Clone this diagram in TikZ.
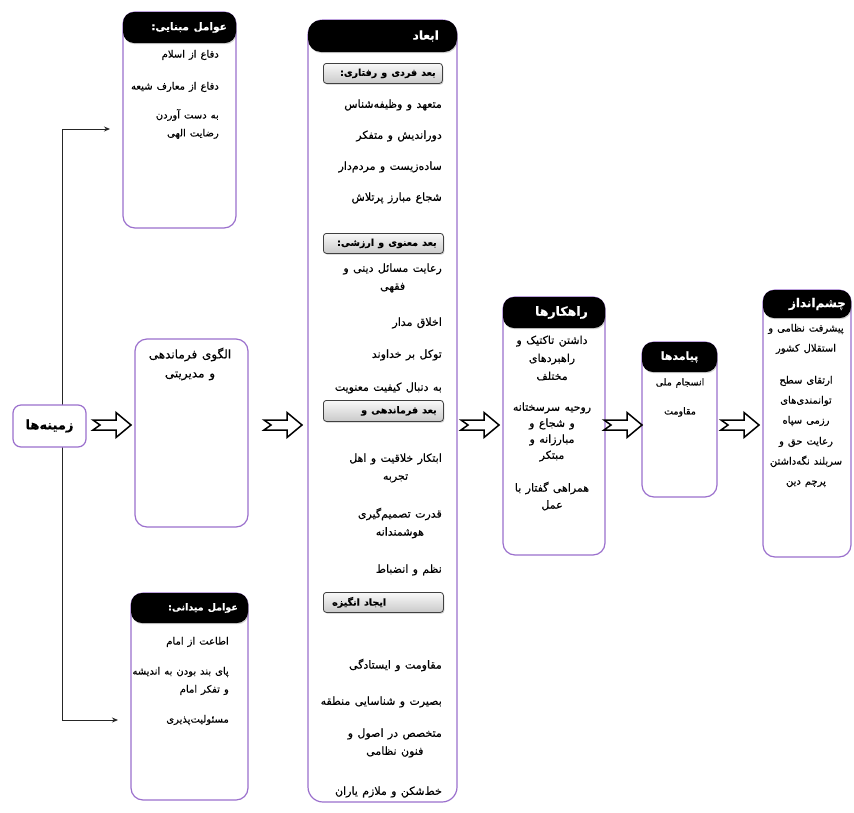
\documentclass[tikz,border=0pt]{standalone}
\usepackage{fontspec}
\usetikzlibrary{arrows.meta,shadows,calc}
\TeXXeTstate=1
\newfontfamily\arabicfont[Script=Arabic,WordSpace=1.25,FakeBold=0.4]{DejaVu Sans}
\newcommand\fa[1]{{\arabicfont\beginR #1\endR}}
\definecolor{purp}{RGB}{155,112,205}
\begin{document}
\begin{tikzpicture}[x=1pt,y=-1pt,
  box/.style={draw=purp, line width=1.2pt, rounded corners=12pt, fill=white, inner sep=0pt, outer sep=0pt, anchor=north west},
  hdr/.style={fill=black, rounded corners=11pt, inner sep=0pt, outer sep=0pt, anchor=north west, drop shadow={opacity=0.35, shadow xshift=0.8pt, shadow yshift=-1.2pt}},
  hdrtext/.style={text=white, font=\fontsize{10.5}{12}\selectfont\bfseries, inner sep=0pt},
  item/.style={font=\fontsize{10}{18}\selectfont, inner sep=0pt, text=black},
  col/.style={item, font=\fontsize{11}{18}\selectfont},
  sub/.style={draw=black!75, line width=0.8pt, rounded corners=3pt, top color=gray!5, bottom color=gray!42, anchor=north west, inner sep=0pt, drop shadow={opacity=0.4, shadow xshift=1pt, shadow yshift=-1.2pt}},
  subtext/.style={font=\fontsize{9.5}{11}\selectfont\bfseries, inner sep=0pt},
  conn/.style={draw=black!85, line width=0.9pt},
  barrow/.pic={\draw[line width=1.5pt, line join=miter, fill=white] (0,-5) -- (23,-5) -- (23,-12.5) -- (38,0) -- (23,12.5) -- (23,5) -- (0,5) -- (7,0) -- cycle;}
]
\useasboundingbox[fill=white] (0,0) rectangle (854,812);

% ---------- left column ----------
\node[box, minimum width=113pt, minimum height=216pt] (top) at (123,12) {};
\node[hdr, minimum width=113pt, minimum height=31pt] (toph) at (123,12) {};
\node[hdrtext, anchor=east] (topht) at ([xshift=-9pt]toph.east) {\fa{عوامل مبنایی:}};
\node[item, anchor=east] (t1) at (219,55) {\fa{دفاع از اسلام}};
\node[item, anchor=east] (t2) at (219,87) {\fa{دفاع از معارف شیعه}};
\node[item, anchor=east, align=right] (t3) at (219,124) {\fa{به دست آوردن}\\\fa{رضایت الهی}};

\node[box, minimum width=113pt, minimum height=188pt] (mid) at (135,339) {};
\node[item, font=\fontsize{12}{19}\selectfont, align=center] (midt) at (190,364) {\fa{الگوی فرماندهی}\\\fa{و مدیریتی}};

\node[box, minimum width=117pt, minimum height=207pt] (bot) at (131,593) {};
\node[hdr, minimum width=117pt, minimum height=30pt] (both) at (131,593) {};
\node[hdrtext, font=\fontsize{9.5}{11}\selectfont\bfseries, anchor=east] (botht) at ([xshift=-10pt]both.east) {\fa{عوامل میدانی:}};
\node[item, anchor=east] (b1) at (229,642) {\fa{اطاعت از امام}};
\node[item, anchor=east, align=right] (b2) at (229,681) {\fa{پای بند بودن به اندیشه}\\\fa{و تفکر امام}};
\node[item, anchor=east] (b3) at (229,720) {\fa{مسئولیت^^^^200cپذیری}};

% ---------- connectors from zamineha ----------
\coordinate (ltop) at (62,129);
\coordinate (lbot) at (62,720);
\coordinate (ttip) at (110,129);
\coordinate (btip) at (118,720);
\draw[conn, -{Stealth[length=6pt,width=5pt]}] (62,425) -- (ltop) -- (ttip);
\draw[conn, -{Stealth[length=6pt,width=5pt]}] (62,425) -- (lbot) -- (btip);

\node[box, rounded corners=8pt, minimum width=73pt, minimum height=42pt, font=\fontsize{13}{15}\selectfont\bfseries] (zam) at (13,405) {\fa{زمینه^^^^200cها}};

% ---------- abad column ----------
\node[box, rounded corners=15pt, minimum width=149pt, minimum height=782pt] (abad) at (308,20) {};
\node[hdr, rounded corners=13pt, minimum width=149pt, minimum height=32pt] (abadh) at (308,20) {};
\node[hdrtext, font=\fontsize{12}{14}\selectfont\bfseries, anchor=east] (abadht) at ([xshift=-18pt]abadh.east) {\fa{ابعاد}};

\node[sub, minimum width=119pt, minimum height=20pt] (s1) at (323,63) {};
\node[subtext, anchor=east] (s1t) at ([xshift=-7pt]s1.east) {\fa{بعد فردی و رفتاری:}};
\node[col, anchor=east] (a1) at (442,105) {\fa{متعهد و وظیفه^^^^200cشناس}};
\node[col, anchor=east] (a2) at (442,136) {\fa{دوراندیش و متفکر}};
\node[col, anchor=east] (a3) at (442,167) {\fa{ساده^^^^200cزیست و مردم^^^^200cدار}};
\node[col, anchor=east] (a4) at (442,198) {\fa{شجاع مبارز پرتلاش}};

\node[sub, minimum width=120pt, minimum height=20pt] (s2) at (323,233) {};
\node[subtext, anchor=east] (s2t) at ([xshift=-7pt]s2.east) {\fa{بعد معنوی و ارزشی:}};
\node[col, anchor=east, align=center] (a5) at (442,278) {\fa{رعایت مسائل دینی و}\\\fa{فقهی}};
\node[col, anchor=east] (a6) at (442,323) {\fa{اخلاق مدار}};
\node[col, anchor=east] (a7) at (442,355) {\fa{توکل بر خداوند}};
\node[col, anchor=east] (a8) at (442,388) {\fa{به دنبال کیفیت معنویت}};

\node[sub, minimum width=120pt, minimum height=21pt] (s3) at (323,400) {};
\node[subtext, anchor=east] (s3t) at ([xshift=-7pt]s3.east) {\fa{بعد فرماندهی و}};
\node[col, anchor=east, align=center] (a9) at (442,468) {\fa{ابتکار خلاقیت و اهل}\\\fa{تجربه}};
\node[col, anchor=east, align=center] (a10) at (442,523) {\fa{قدرت تصمیم^^^^200cگیری}\\\fa{هوشمندانه}};
\node[col, anchor=east] (a11) at (442,570) {\fa{نظم و انضباط}};

\node[sub, minimum width=120pt, minimum height=20pt] (s4) at (323,592) {};
\node[subtext, anchor=west] (s4t) at ([xshift=9pt]s4.west) {\fa{ایجاد انگیزه}};
\node[col, anchor=east] (a12) at (442,665) {\fa{مقاومت و ایستادگی}};
\node[col, anchor=east] (a13) at (442,702) {\fa{بصیرت و شناسایی منطقه}};
\node[col, anchor=east, align=center] (a14) at (442,743) {\fa{متخصص در اصول و}\\\fa{فنون نظامی}};
\node[col, anchor=east] (a15) at (442,792) {\fa{خط^^^^200cشکن و ملازم یاران}};

% ---------- rahkarha ----------
\node[box, minimum width=102pt, minimum height=258pt] (rah) at (503,297) {};
\node[hdr, minimum width=102pt, minimum height=31pt] (rahh) at (503,297) {};
\node[hdrtext, font=\fontsize{12.5}{14}\selectfont\bfseries, anchor=east] (rahht) at ([xshift=-17pt]rahh.east) {\fa{راهکارها}};
\node[col, align=center] (r1) at (552,358) {\fa{داشتن تاکتیک و}\\\fa{راهبردهای}\\\fa{مختلف}};
\node[col, align=center, font=\fontsize{11}{16}\selectfont] (r2) at (552,432) {\fa{روحیه سرسختانه}\\\fa{و شجاع و}\\\fa{مبارزانه و}\\\fa{مبتکر}};
\node[col, align=center, font=\fontsize{11}{17}\selectfont] (r3) at (552,496) {\fa{همراهی گفتار با}\\\fa{عمل}};

% ---------- payamadha ----------
\node[box, minimum width=75pt, minimum height=155pt] (pay) at (642,342) {};
\node[hdr, minimum width=75pt, minimum height=30pt] (payh) at (642,342) {};
\node[hdrtext, font=\fontsize{11}{13}\selectfont\bfseries] (payht) at (payh.center) {\fa{پیامدها}};
\node[item, font=\fontsize{9.5}{12}\selectfont] (p1) at (680,383) {\fa{انسجام ملی}};
\node[item, font=\fontsize{9.5}{12}\selectfont] (p2) at (680,412) {\fa{مقاومت}};

% ---------- cheshmandaz ----------
\node[box, minimum width=88pt, minimum height=267pt] (ch) at (763,290) {};
\node[hdr, minimum width=88pt, minimum height=28pt] (chh) at (763,290) {};
\node[hdrtext, font=\fontsize{12}{14}\selectfont\bfseries, anchor=east] (chht) at ([xshift=-5pt]chh.east) {\fa{چشم^^^^200cانداز}};
\node[item, align=center, font=\fontsize{10}{20}\selectfont] (c1) at (806,339) {\fa{پیشرفت نظامی و}\\\fa{استقلال کشور}};
\node[item, align=center, font=\fontsize{10}{20}\selectfont] (c2) at (806,401) {\fa{ارتقای سطح}\\\fa{توانمندی^^^^200cهای}\\\fa{رزمی سپاه}};
\node[item, align=center, font=\fontsize{10}{20}\selectfont] (c3) at (806,462) {\fa{رعایت حق و}\\\fa{سربلند نگه^^^^200cداشتن}\\\fa{پرچم دین}};

% ---------- block arrows ----------
\coordinate (arow) at (0,425);
\pic at ([xshift=7pt]zam.east |- arow) {barrow};
\pic at ([xshift=16pt]mid.east |- arow) {barrow};
\pic at ([xshift=4pt]abad.east |- arow) {barrow};
\pic at ([xshift=-1pt]rah.east |- arow) {barrow};
\pic at ([xshift=4pt]pay.east |- arow) {barrow};
\end{tikzpicture}
\end{document}
